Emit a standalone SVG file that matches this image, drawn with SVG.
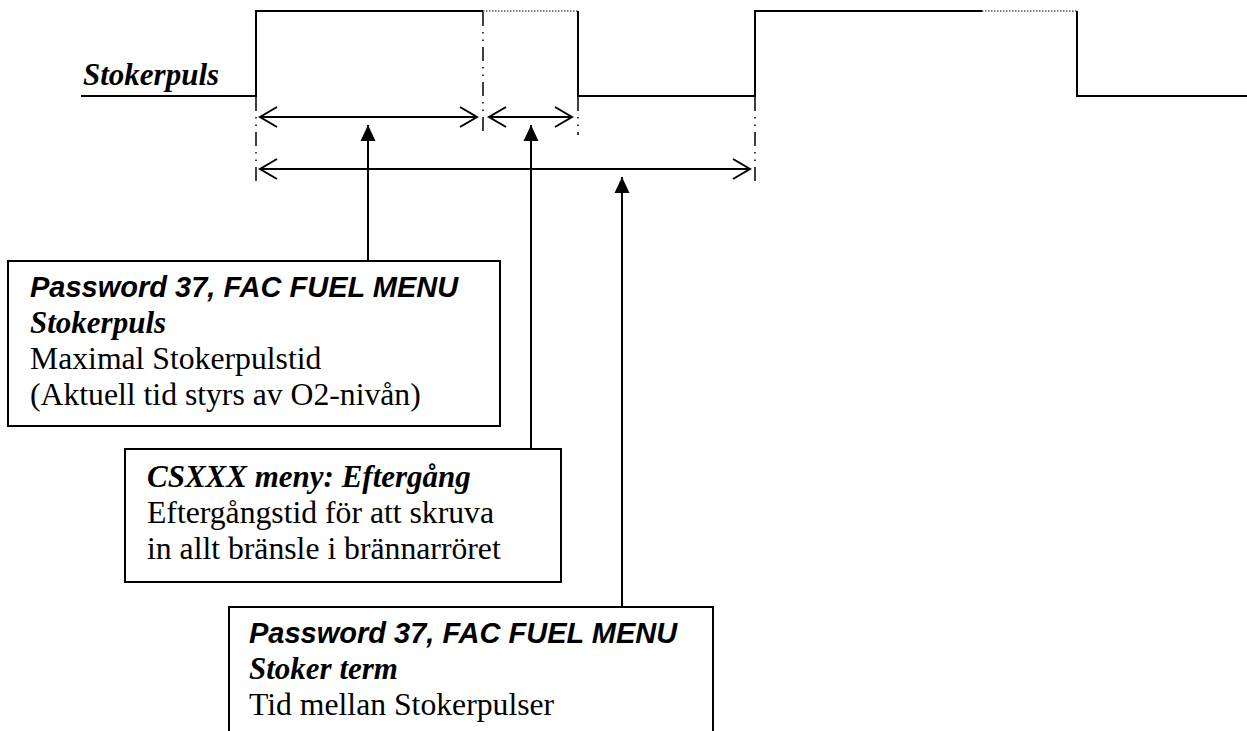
<svg xmlns="http://www.w3.org/2000/svg" width="1247" height="731" viewBox="0 0 1247 731">
<style>
.sig{fill:none;stroke:#000;stroke-width:2}
.dot{fill:none;stroke:#000;stroke-width:1.2;stroke-dasharray:1.5 1.5}
.dd{fill:none;stroke:#000;stroke-width:1.5;stroke-dasharray:14 6 1.5 6 1.5 6}
.arr{fill:none;stroke:#000;stroke-width:2}
.box{fill:#fff;stroke:#000;stroke-width:2}
.ar{font-family:"Liberation Sans",Arial,sans-serif;font-weight:bold;font-style:italic;font-size:29px;fill:#000}
.tb{font-family:"Liberation Serif","Times New Roman",serif;font-weight:bold;font-style:italic;font-size:31px;fill:#000}
.tr{font-family:"Liberation Serif","Times New Roman",serif;font-size:31.7px;fill:#000}
</style>
<defs>
<marker id="chev" markerUnits="userSpaceOnUse" orient="auto-start-reverse" refX="0" refY="0" markerWidth="22" markerHeight="24" viewBox="-20 -12 22 24" overflow="visible">
<path d="M-17,-10 L0,0 L-17,10" fill="none" stroke="#000" stroke-width="2"/>
</marker>
<marker id="tri" markerUnits="userSpaceOnUse" orient="auto" refX="0" refY="0" markerWidth="18" markerHeight="18" viewBox="-17 -9 18 18" overflow="visible">
<path d="M0,0 L-16,-7.5 L-16,7.5 Z" fill="#000"/>
</marker>
</defs>
<rect width="1247" height="731" fill="#fff"/>
<g id="signal">
<text class="tb" x="83" y="85">Stokerpuls</text>
<path class="sig" d="M81,96 H256 V11 H483"/>
<path class="dot" d="M483,11 H578"/>
<path class="sig" d="M578,11 V96 H755 V11 H982"/>
<path class="dot" d="M982,11 H1077"/>
<path class="sig" d="M1077,11 V96 H1247"/>
<path class="dd" d="M256,97 V187"/>
<path class="dd" d="M483,12 V137"/>
<path class="dd" d="M578,97 V135"/>
<path class="dd" d="M755,97 V187"/>
</g>
<g id="connectors">
<line class="arr" x1="260" y1="117" x2="477" y2="117" marker-start="url(#chev)" marker-end="url(#chev)"/>
<line class="arr" x1="489" y1="117" x2="572" y2="117" marker-start="url(#chev)" marker-end="url(#chev)"/>
<line class="arr" x1="260" y1="169" x2="750" y2="169" marker-start="url(#chev)" marker-end="url(#chev)"/>
<line class="arr" x1="368" y1="261" x2="368" y2="125" marker-end="url(#tri)"/>
<line class="arr" x1="531" y1="449" x2="531" y2="125" marker-end="url(#tri)"/>
<line class="arr" x1="622" y1="607" x2="622" y2="177" marker-end="url(#tri)"/>
</g>
<g id="box1">
<rect class="box" x="8" y="261" width="492" height="165"/>
<text class="ar" x="30" y="297">Password 37, FAC FUEL MENU</text>
<text class="tb" x="30" y="333">Stokerpuls</text>
<text class="tr" x="30" y="369">Maximal Stokerpulstid</text>
<text class="tr" x="30" y="405">(Aktuell tid styrs av O2-nivån)</text>
</g>
<g id="box2">
<rect class="box" x="125" y="449" width="436" height="133"/>
<text class="tb" x="147" y="487">CSXXX meny: Eftergång</text>
<text class="tr" x="147" y="523">Eftergångstid för att skruva</text>
<text class="tr" x="147" y="559">in allt bränsle i brännarröret</text>
</g>
<g id="box3">
<rect class="box" x="229" y="607" width="484" height="160"/>
<text class="ar" x="249" y="643">Password 37, FAC FUEL MENU</text>
<text class="tb" x="249" y="679">Stoker term</text>
<text class="tr" x="249" y="715">Tid mellan Stokerpulser</text>
</g>
</svg>
